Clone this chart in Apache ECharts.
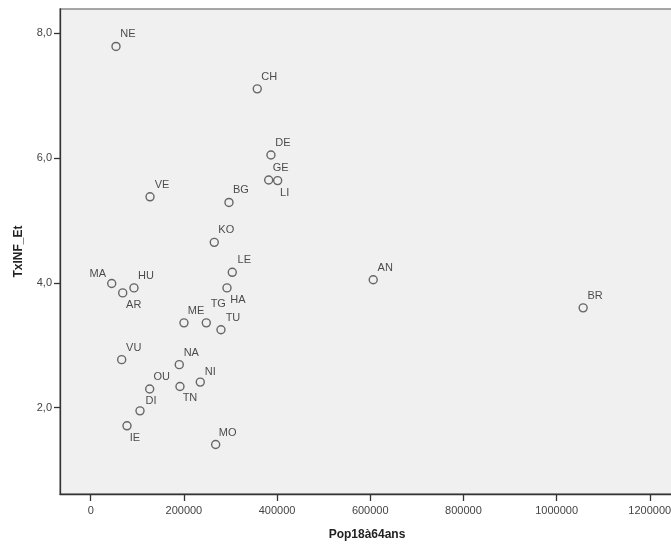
<!DOCTYPE html>
<html>
<head>
<meta charset="utf-8">
<script src="https://cdn.jsdelivr.net/npm/echarts@6/dist/echarts.min.js"></script>
<style>
html,body{margin:0;padding:0;background:#fff;}
#chart{width:671px;height:548px;}
</style>
</head>
<body>
<div id="chart"></div>
<script>
// Data
const codes = ['NE','CH','DE','GE','LI','VE','BG','KO','LE','MA','HU','AR','HA','ME','TG','TU','VU','NA','NI','TN','OU','DI','IE','MO','AN','BR'];
const pop18a64 = [54300,357500,386900,382000,401300,127300,296800,265200,303900,45100,92900,68700,292500,200200,248100,279600,66500,190100,235200,191600,126600,105800,77900,268200,606400,1057000];
const txInfEt = [7.79,7.11,6.05,5.65,5.64,5.38,5.29,4.65,4.17,3.99,3.92,3.84,3.92,3.36,3.36,3.25,2.77,2.69,2.41,2.34,2.30,1.95,1.71,1.41,4.05,3.60];
const xTicks = [0,200000,400000,600000,800000,1000000,1200000];
const yTicks = [2,4,6,8];
const xTitle = 'Pop18à64ans';
const yTitle = 'TxINF_Et';

// Label placement (style, not data)
const labelOffsets = {
  MA: [-14, -10], AR: [11, 12], HA: [11, 12], LI: [7, 12], TN: [10, 11], IE: [8, 12], TG: [12, -19], NI: [10, -10], DI: [11, -10]
};
const defaultOffset = [12, -12];

const points = codes.map((c, i) => ({ value: [pop18a64[i], txInfEt[i]], name: c }));

const chart = echarts.init(document.getElementById('chart'), null, {renderer: 'canvas'});
const font = 'Liberation Sans, Arial, sans-serif';
chart.setOption({
  animation: false,
  backgroundColor: '#ffffff',
  grid: {
    left: 60, top: 9, right: -3, bottom: 54,
    outerBoundsMode: 'none', containLabel: false,
    show: true, backgroundColor: '#f0f0f0', borderColor: '#8a8a8a', borderWidth: 1.5
  },
  xAxis: {
    type: 'value',
    min: -65900, max: 1252000,
    name: xTitle, nameLocation: 'middle', nameGap: 35,
    nameTextStyle: {fontFamily: font, fontSize: 12, fontWeight: 'bold', color: '#222'},
    axisLine: {show: true, onZero: false, lineStyle: {color: '#333', width: 1.3}},
    axisTick: {show: true, customValues: xTicks, length: 7, lineStyle: {color: '#333', width: 1.3}},
    axisLabel: {customValues: xTicks, fontFamily: font, fontSize: 11, color: '#444', margin: 11,
      formatter: v => String(v), showMinLabel: true, showMaxLabel: true, hideOverlap: false},
    splitLine: {show: false}
  },
  yAxis: {
    type: 'value',
    min: 0.617, max: 8.39,
    name: yTitle, nameLocation: 'middle', nameGap: 35, nameRotate: 90,
    nameTextStyle: {fontFamily: font, fontSize: 12, fontWeight: 'bold', color: '#222'},
    axisLine: {show: true, onZero: false, lineStyle: {color: '#333', width: 1.3}},
    axisTick: {show: true, customValues: yTicks, length: 6, lineStyle: {color: '#333', width: 1.3}},
    axisLabel: {customValues: yTicks, fontFamily: font, fontSize: 11, color: '#444', margin: 8,
      formatter: v => v.toFixed(1).replace('.', ',')},
    splitLine: {show: false}
  },
  series: [{
    type: 'scatter',
    data: points,
    symbol: 'circle',
    symbolSize: 8,
    itemStyle: {color: 'rgba(0,0,0,0)', borderColor: '#444', borderWidth: 1.4},
    label: {
      show: true, position: 'inside',
      formatter: p => p.name,
      fontFamily: font, fontSize: 11, color: '#222'
    },
    labelLayout: function (params) {
      const o = labelOffsets[codes[params.dataIndex]] || defaultOffset;
      return {dx: o[0], dy: o[1], hideOverlap: false};
    }
  }]
});
</script>
</body>
</html>
